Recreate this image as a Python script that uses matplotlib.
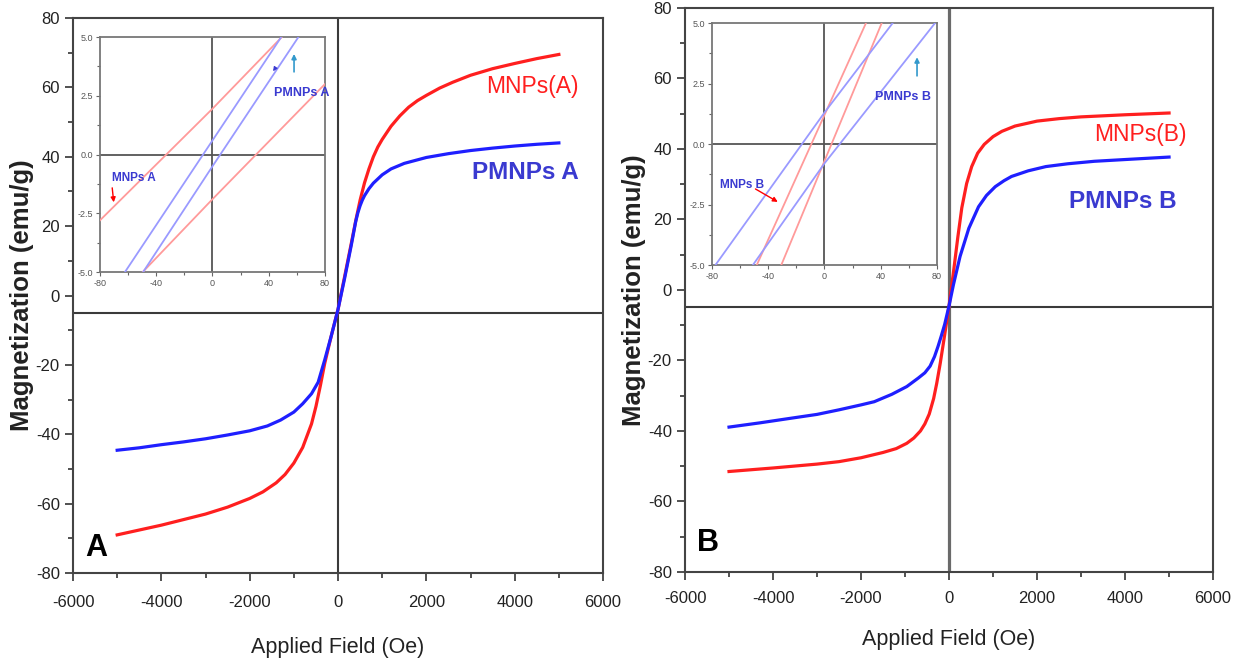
import numpy as np
import matplotlib.pyplot as plt
from matplotlib.ticker import MultipleLocator, FormatStrFormatter

plt.rcParams['font.family'] = ['Liberation Sans', 'DejaVu Sans']
plt.rcParams['axes.unicode_minus'] = False

# --- panel A : M-H loops ---
field_a_red = [-5000, -4500, -4000, -3500, -3000, -2500, -2000, -1700, -1400, -1200, -1000,
               -800, -600, -500, -400, -300, -150, 0, 150, 300, 400, 500, 600, 700, 800,
               900, 1000, 1200, 1400, 1600, 1800, 2000, 2300, 2600, 3000, 3500, 4000, 4500, 5000]
mag_a_red = [-69.0, -67.6, -66.2, -64.6, -63.0, -61.0, -58.5, -56.6, -54.0, -51.6, -48.3,
             -43.8, -37.0, -32.0, -26.0, -19.5, -11.5, -4.0, 5.5, 15.0, 21.5, 27.5, 32.5, 36.5, 40.0,
             42.8, 45.0, 48.8, 51.8, 54.3, 56.2, 57.7, 59.8, 61.5, 63.5, 65.4, 66.9, 68.3, 69.5]
field_a_blue = [-5000, -4500, -4000, -3500, -3000, -2500, -2000, -1600, -1300, -1000, -800,
                -600, -450, -300, -150, 0, 150, 300, 400, 450, 500, 550, 600, 700, 800, 1000, 1200,
                1500, 2000, 2500, 3000, 3500, 4000, 4500, 5000]
mag_a_blue = [-44.6, -43.9, -43.0, -42.2, -41.3, -40.2, -39.0, -37.6, -35.9, -33.6, -31.2,
              -28.3, -25.0, -18.5, -11.5, -4.0, 5.0, 14.5, 21.3, 23.9, 25.9, 27.5, 28.8, 30.8, 32.4,
              34.8, 36.5, 38.1, 39.8, 40.9, 41.8, 42.5, 43.1, 43.6, 44.0]

# --- panel B ---
field_b_red = [-5000, -4000, -3000, -2500, -2000, -1500, -1200, -960, -800, -650, -550, -450,
               -350, -280, -200, -100, 0, 100, 200, 290, 400, 515, 650, 800, 1000, 1200,
               1500, 2000, 2500, 3000, 4000, 5000]
mag_b_red = [-51.5, -50.5, -49.4, -48.7, -47.6, -46.1, -45.0, -43.5, -42.0, -40.0, -38.0, -35.2,
             -30.8, -26.5, -20.8, -12.8, -4.5, 5.0, 15.0, 23.3, 30.2, 35.0, 38.8, 41.3, 43.5, 45.0,
             46.5, 47.9, 48.6, 49.1, 49.7, 50.2]
field_b_blue = [-5000, -4300, -3600, -3000, -2500, -2000, -1700, -1300, -960, -700, -550, -430,
                -330, -250, -180, -100, 0, 100, 250, 450, 670, 850, 1050, 1250, 1420, 1800, 2200,
                2700, 3300, 4000, 5000]
mag_b_blue = [-38.9, -37.7, -36.4, -35.3, -34.0, -32.6, -31.7, -29.6, -27.4, -25.0, -23.5, -21.6,
              -18.9, -16.0, -13.2, -9.8, -4.5, 1.5, 9.5, 17.5, 23.6, 26.8, 29.3, 31.0, 32.2, 33.8, 35.0,
              35.8, 36.5, 37.0, 37.7]

# --- insets (low field part of the loops) ---
inset_field = [-80, 0, 80]
inset_a_red_up = [-2.8, 1.95, 6.9]
inset_a_red_down = [-6.9, -1.9, 3.0]
inset_a_blue_up = [-6.6, 0.6, 7.8]
inset_a_blue_down = [-7.8, -0.5, 6.7]
inset_b_red_up = [-9.1, 1.2, 11.5]
inset_b_red_down = [-11.9, -0.7, 10.5]
inset_b_blue_up = [-5.2, 1.3, 7.4]
inset_b_blue_down = [-7.4, -0.8, 5.1]

RED = '#ff1f1f'
BLUE = '#1f1fff'
TXT_BLUE = '#3a3ad0'
PINK = '#ff9a9a'
LBLUE = '#9a9aff'


def main_axes(fig, rect, zero_y, data, letter, letter_pos, labels, xlab_y, vline, xpad):
    ax = fig.add_axes(rect)
    ax.plot(data[0], data[1], color=RED, lw=2.3, zorder=3)
    ax.plot(data[2], data[3], color=BLUE, lw=2.3, zorder=3)
    ax.set_xlim(-6000, 6000)
    ax.set_ylim(-80, 80)
    ax.axhline(zero_y, color='#3a3a3a', lw=1.5, zorder=1)
    ax.axvline(0, color=vline[0], lw=vline[1], zorder=1)
    ax.xaxis.set_major_locator(MultipleLocator(2000))
    ax.xaxis.set_minor_locator(MultipleLocator(1000))
    ax.yaxis.set_major_locator(MultipleLocator(20))
    ax.yaxis.set_minor_locator(MultipleLocator(10))
    ax.tick_params(which='both', direction='out', colors='#333333', labelsize=12,
                   width=1.2, labelcolor='#222222')
    ax.tick_params(which='major', length=6)
    ax.tick_params(which='minor', length=3.5)
    ax.tick_params(axis='x', which='major', pad=xpad)
    for s in ax.spines.values():
        s.set_color('#444444')
        s.set_linewidth(1.5)
    ax.set_xlabel('Applied Field (Oe)', fontsize=15.5, color='#222222', va='center')
    ax.xaxis.set_label_coords(0.5, xlab_y)
    ax.set_ylabel('Magnetization (emu/g)', fontsize=18.5, fontweight='bold', color='#222222',
                  va='center')
    ax.yaxis.set_label_coords(-0.097, 0.5)
    ax.text(letter_pos[0], letter_pos[1], letter, transform=ax.transAxes, fontsize=22,
            fontweight='bold', color='black', ha='left', va='bottom')
    ax.text(labels[0][0], labels[0][1], labels[0][2], transform=ax.transAxes, color=RED,
            fontsize=16.5, ha='center', va='center')
    ax.text(labels[1][0], labels[1][1], labels[1][2], transform=ax.transAxes, color=TXT_BLUE,
            fontsize=17.5, fontweight='bold', ha='center', va='center')
    return ax


def inset_axes(fig, rect, lines):
    ax = fig.add_axes(rect)
    for m, c in lines:
        ax.plot(inset_field, m, color=c, lw=1.3, zorder=3)
    ax.set_xlim(-80, 80)
    ax.set_ylim(-5, 5)
    ax.axhline(0, color='#555555', lw=1.3, zorder=1)
    ax.axvline(0, color='#555555', lw=1.3, zorder=1)
    ax.xaxis.set_major_locator(MultipleLocator(40))
    ax.xaxis.set_minor_locator(MultipleLocator(20))
    ax.yaxis.set_major_locator(MultipleLocator(2.5))
    ax.yaxis.set_minor_locator(MultipleLocator(1.25))
    ax.yaxis.set_major_formatter(FormatStrFormatter('%.1f'))
    ax.tick_params(which='both', direction='out', colors='#666666', labelsize=6.5,
                   width=0.8, labelcolor='#555555', pad=2)
    ax.tick_params(which='major', length=3)
    ax.tick_params(which='minor', length=2)
    for s in ax.spines.values():
        s.set_color('#777777')
        s.set_linewidth(1.3)
    return ax


fig = plt.figure(figsize=(12.48, 6.63), dpi=100)

axA = main_axes(fig, [0.0585, 0.1357, 0.4247, 0.8371], -5.0,
                (field_a_red, mag_a_red, field_a_blue, mag_a_blue), 'A', (0.024, 0.018),
                [(0.867, 0.876, 'MNPs(A)'), (0.854, 0.721, 'PMNPs A')], -0.135,
                ('#3a3a3a', 1.5), 10)
axB = main_axes(fig, [0.5489, 0.1373, 0.4231, 0.8507], -4.8,
                (field_b_red, mag_b_red, field_b_blue, mag_b_blue), 'B', (0.022, 0.024),
                [(0.862, 0.775, 'MNPs(B)'), (0.830, 0.656, 'PMNPs B')], -0.12,
                ('#6a6a6a', 2.3), 8)

insA = inset_axes(fig, [0.0801, 0.5897, 0.1803, 0.3544],
                  [(inset_a_red_up, PINK), (inset_a_red_down, PINK),
                   (inset_a_blue_up, LBLUE), (inset_a_blue_down, LBLUE)])
insA.text(63.6, 2.6, 'PMNPs A', color=TXT_BLUE, fontsize=9, fontweight='bold',
          ha='center', va='center')
insA.annotate('', xy=(58, 4.4), xytext=(58, 3.4),
              arrowprops=dict(arrowstyle='-|>', color='#3399cc', lw=1.2, mutation_scale=7))
insA.annotate('', xy=(42, 3.45), xytext=(46, 3.8),
              arrowprops=dict(arrowstyle='-|>', color='#3a3ad0', lw=0.8, mutation_scale=6))
insA.text(-56.2, -1.0, 'MNPs A', color=TXT_BLUE, fontsize=8.5, fontweight='bold',
          ha='center', va='center')
insA.annotate('', xy=(-70, -2.15), xytext=(-71.5, -1.3),
              arrowprops=dict(arrowstyle='-|>', color='red', lw=1.0, mutation_scale=7))

insB = inset_axes(fig, [0.5705, 0.6003, 0.1803, 0.365],
                  [(inset_b_red_up, PINK), (inset_b_red_down, PINK),
                   (inset_b_blue_up, LBLUE), (inset_b_blue_down, LBLUE)])
insB.text(55.8, 1.95, 'PMNPs B', color=TXT_BLUE, fontsize=9, fontweight='bold',
          ha='center', va='center')
insB.annotate('', xy=(65.8, 3.7), xytext=(65.8, 2.7),
              arrowprops=dict(arrowstyle='-|>', color='#3399cc', lw=1.2, mutation_scale=7))
insB.text(-58.7, -1.7, 'MNPs B', color=TXT_BLUE, fontsize=8.5, fontweight='bold',
          ha='center', va='center')
insB.annotate('', xy=(-31.5, -2.45), xytext=(-50.8, -1.8),
              arrowprops=dict(arrowstyle='-|>', color='red', lw=1.0, mutation_scale=7))

fig.savefig('out.png', dpi=100)
